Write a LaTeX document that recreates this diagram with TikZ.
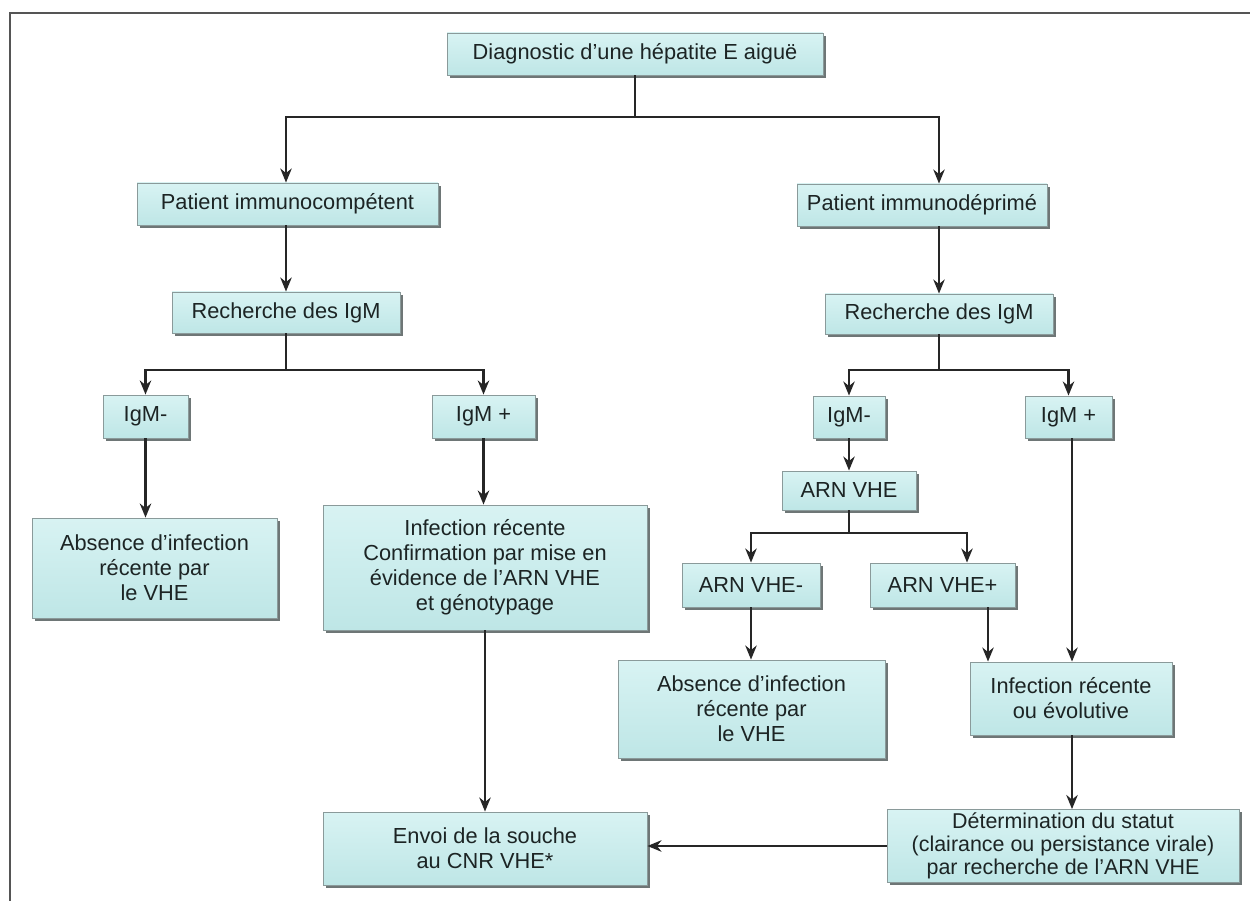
\documentclass[tikz,border=0pt]{standalone}
\usepackage{fontspec}
\setmainfont{Liberation Sans}
\usetikzlibrary{shadows,arrows.meta}
\definecolor{boxtop}{HTML}{D8F3F3}
\definecolor{boxbot}{HTML}{BEE6E6}
\definecolor{boxline}{HTML}{8A9A9A}
\definecolor{shadowc}{HTML}{6E7676}
\definecolor{txt}{HTML}{1C2424}
\definecolor{framec}{HTML}{555555}
\tikzset{
  box/.style={draw=boxline, line width=0.5pt, top color=boxtop, bottom color=boxbot,
    drop shadow={shadow xshift=1.6pt, shadow yshift=-1.6pt, fill=shadowc, opacity=1},
    inner sep=0pt, align=center, text=txt,
    font=\fontsize{12.4}{14.2}\selectfont},
  tightbox/.style={box, font=\fontsize{12.2}{13.2}\selectfont},
  arr/.style={line width=1.5pt, draw=black!85, -{Stealth[length=8pt,width=6.5pt]}},
  plain/.style={line width=1.5pt, draw=black!85},
  frameline/.style={draw=framec, line width=1.3pt}
}
\begin{document}
\begin{tikzpicture}[x=0.02cm,y=-0.02cm]
\useasboundingbox (0,0) rectangle (1250,901);
\fill[white] (0,0) rectangle (1250,901);
\draw[frameline] (9,13) -- (1250,13);
\draw[frameline] (10,13) -- (10,901);

% nodes
\node[box, minimum width=7.52cm, minimum height=0.84cm] (diag) at (635,54) {Diagnostic d'une hépatite E aiguë};
\node[box, minimum width=6.02cm, minimum height=0.84cm] (pic) at (287.5,204) {Patient immunocompétent};
\node[box, minimum width=5.0cm, minimum height=0.84cm] (pid) at (922,205) {Patient immunodéprimé};
\node[box, minimum width=4.56cm, minimum height=0.82cm] (rl) at (286,312.5) {Recherche des IgM};
\node[box, minimum width=4.56cm, minimum height=0.80cm] (rr) at (939,314) {Recherche des IgM};
\node[box, minimum width=1.7cm, minimum height=0.86cm] (lm) at (145.5,416.5) {IgM-};
\node[box, minimum width=2.06cm, minimum height=0.86cm] (lp) at (483.5,416.5) {IgM +};
\node[box, minimum width=1.44cm, minimum height=0.84cm] (rm) at (849,417) {IgM-};
\node[box, minimum width=1.74cm, minimum height=0.84cm] (rp) at (1068.5,417) {IgM +};
\node[box, minimum width=2.68cm, minimum height=0.78cm] (arn) at (849,490.5) {ARN VHE};
\node[box, minimum width=2.76cm, minimum height=0.88cm] (an) at (751,585) {ARN VHE-};
\node[box, minimum width=2.9cm, minimum height=0.88cm] (ap) at (942.5,585) {ARN VHE+};
\node[box, minimum width=4.9cm, minimum height=2.0cm] (la) at (154.5,568) {Absence d'infection\\récente par\\le VHE};
\node[box, minimum width=6.48cm, minimum height=2.5cm] (li) at (485,567.5) {Infection récente\\Confirmation par mise en\\évidence de l'ARN VHE\\et génotypage};
\node[box, minimum width=5.34cm, minimum height=1.96cm] (ra) at (751.5,709) {Absence d'infection\\récente par\\le VHE};
\node[box, minimum width=4.04cm, minimum height=1.46cm] (ri) at (1071,698.5) {Infection récente\\ou évolutive};
\node[box, minimum width=6.48cm, minimum height=1.46cm] (env) at (485,848.5) {Envoi de la souche\\au CNR VHE*};
\node[tightbox, minimum width=7.04cm, minimum height=1.46cm] (det) at (1063,846) {Détermination du statut\\(clairance ou persistance virale)\\par recherche de l'ARN VHE};

% junction coordinates
\coordinate (jt) at (635,117);
\coordinate (jl) at (286,370);
\coordinate (jr) at (939,370);
\coordinate (ja) at (849,533);
\coordinate (xa) at (967,0);
\coordinate (xb) at (988,0);
\coordinate (xc) at (1072,0);

% connectors
\draw[plain] (diag.south) -- (jt);
\draw[arr] (jt) -| (pic.north -| rl.north);
\draw[arr] (jt) -| (pid.north -| rr.north);
\draw[arr] (pic.south -| rl.north) -- (rl.north);
\draw[arr] (pid.south -| rr.north) -- (rr.north);
\draw[plain] (rl.south) -- (jl);
\draw[arr] (jl) -| (lm.north);
\draw[arr] (jl) -| (lp.north);
\draw[arr] (lm.south) -- (lm.south |- la.north);
\draw[arr] (lp.south) -- (lp.south |- li.north);
\draw[arr] (li.south) -- (env.north);
\draw[plain] (rr.south) -- (jr);
\draw[arr] (jr) -| (rm.north);
\draw[arr] (jr) -| (rp.north);
\draw[arr] (rm.south) -- (arn.north);
\draw[plain] (arn.south) -- (ja);
\draw[arr] (ja) -| (an.north);
\draw[arr] (ja) -| (ap.north -| xa);
\draw[arr] (an.south) -- (an.south |- ra.north);
\draw[arr] (ap.south -| xb) -- (ri.north -| xb);
\draw[arr] (rp.south -| xc) -- (ri.north -| xc);
\draw[arr] (ri.south -| xc) -- (det.north -| xc);
\draw[arr] (det.west) -- (det.west -| env.east);
\end{tikzpicture}
\end{document}
